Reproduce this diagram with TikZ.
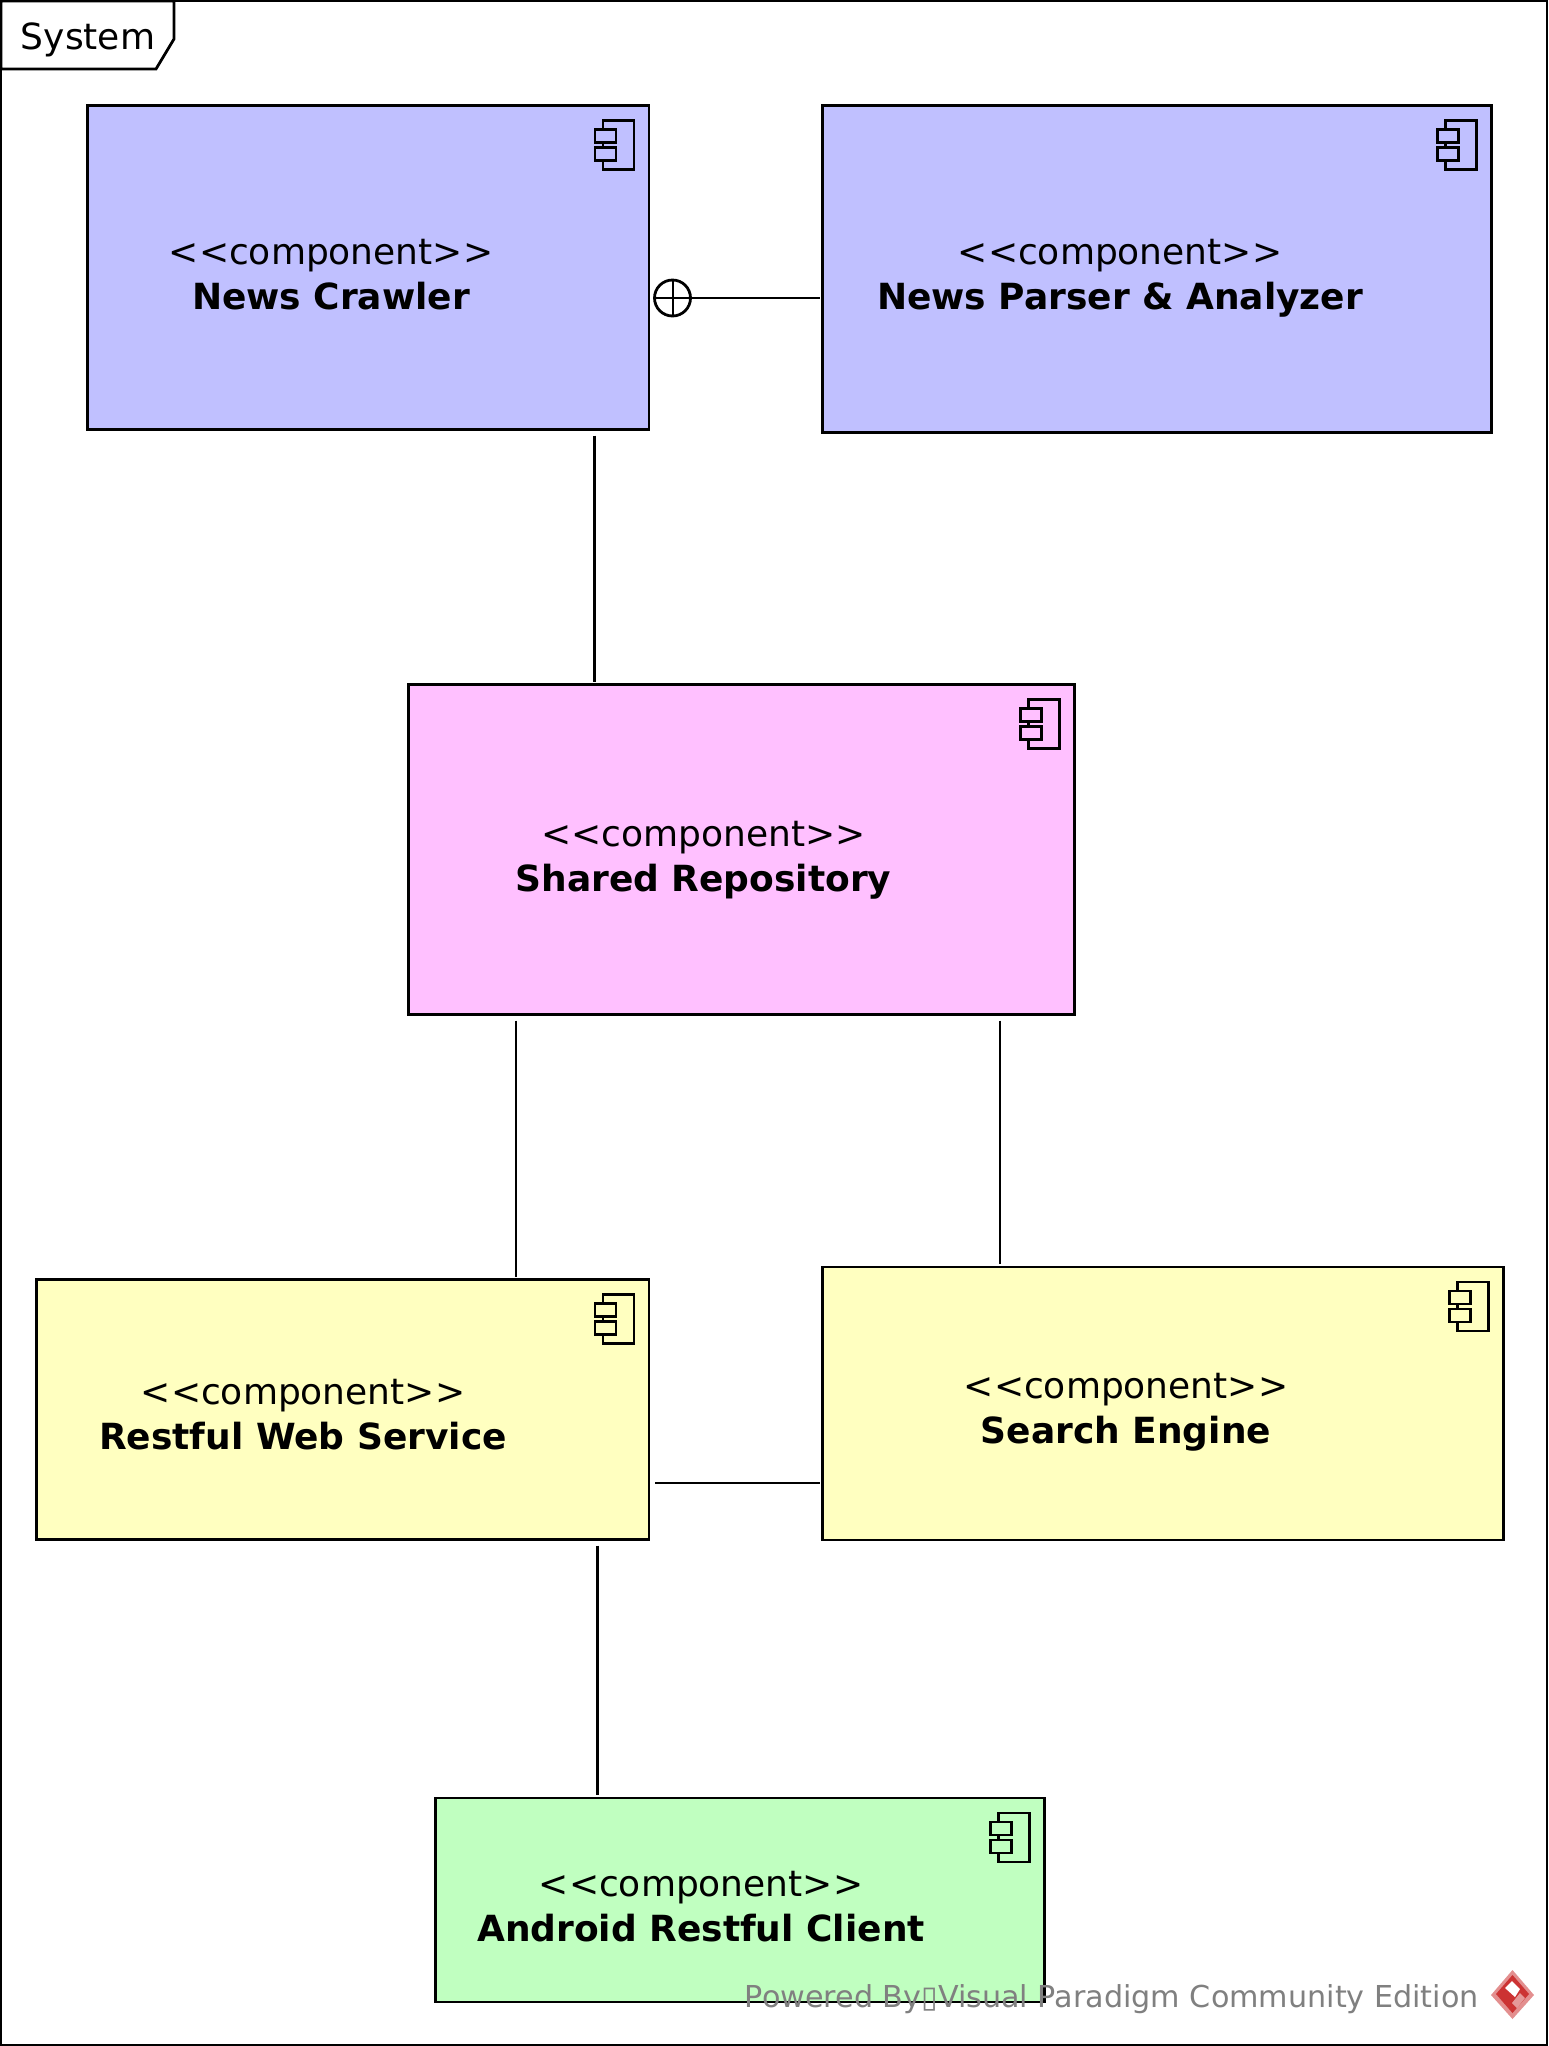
\documentclass[tikz,border=0pt]{standalone}
\usepackage{fontspec}
\setmainfont{DejaVu Sans}
\definecolor{compblue}{HTML}{C0C0FF}
\definecolor{comppink}{HTML}{FFC0FF}
\definecolor{compyellow}{HTML}{FFFFC0}
\definecolor{compgreen}{HTML}{C0FFC0}
\definecolor{vpred}{HTML}{CC3333}
\tikzset{
	comp/.style={draw,line width=2.8pt,outer sep=0pt,inner sep=0pt},
	lbl/.style={align=center,inner sep=0pt,font=\fontsize{36}{44.5}\selectfont},
	link/.style={line width=2.8pt,shorten <=6pt,shorten >=3pt},
}
\newcommand{\stereo}[1]{<{}<component>{}>\\\textbf{#1}\strut}
\begin{document}
\begin{tikzpicture}[x=1pt,y=-1pt,line join=miter]
	\useasboundingbox (0,0) rectangle (1548,2046);
	\draw[line width=2.8pt] (1,1) rectangle (1547,2045);
	\draw[line width=2.8pt,fill=white] (1,1)--(174,1)--(174,39)--(156,69)--(1,69)--cycle;
	\node[lbl,anchor=center] (systemlbl) at (88,40) {System};
	% components
	\node[comp,fill=compblue,minimum width=561.5pt,minimum height=324pt,anchor=north west] (crawler) at (87.5,105.5) {};
	\node[comp,fill=compblue,minimum width=669pt,minimum height=327pt,anchor=north west] (parser) at (822.5,105.5) {};
	\node[comp,fill=comppink,minimum width=666pt,minimum height=330pt,anchor=north west] (shared) at (408.5,684.5) {};
	\node[comp,fill=compyellow,minimum width=612.5pt,minimum height=260pt,anchor=north west] (restful) at (36.5,1279.5) {};
	\node[comp,fill=compyellow,minimum width=681pt,minimum height=273pt,anchor=north west] (search) at (822.5,1267) {};
	\node[comp,fill=compgreen,minimum width=609pt,minimum height=204pt,anchor=north west] (android) at (435.5,1798) {};
	\foreach \n/\c in {crawler/compblue,parser/compblue,shared/comppink,restful/compyellow,search/compyellow,android/compgreen}{
		\draw[line width=2.8pt,shift={(\n.north east)}] (-46,15) rectangle (-15,64);
		\draw[line width=2.8pt,fill=\c,shift={(\n.north east)}] (-54,24) rectangle (-33,37) (-54,42) rectangle (-33,55);
	}
	\node[lbl] (crawlerlbl) at (331,281) {\stereo{News Crawler}};
	\node[lbl] (parserlbl) at (1120,281) {\stereo{News Parser \& Analyzer}};
	\node[lbl] (sharedlbl) at (703.5,863) {\stereo{Shared Repository}};
	\node[lbl] (restfullbl) at (303,1421) {\stereo{Restful Web Service}};
	\node[lbl] (searchlbl) at (1126,1415) {\stereo{Search Engine}};
	\node[lbl] (androidlbl) at (701,1913) {\stereo{Android Restful Client}};
	% connectors
	\node[circle,draw,line width=2.8pt,minimum size=36pt,inner sep=0pt,outer sep=0pt] (joint) at (672.5,298) {};
	\draw[line width=2pt] (joint.north)--(joint.south) (joint.west)--(joint.east);
	\draw[link,shorten <=0pt] (joint.east)--(joint.east -| parser.west);
	\draw[link] (594.5,0 |- crawler.south)--(594.5,0 |- shared.north);
	\draw[link] (516,0 |- shared.south)--(516,0 |- restful.north);
	\draw[link] (1000,0 |- shared.south)--(1000,0 |- search.north);
	\draw[link] (0,1483 -| restful.east)--(0,1483 -| search.west);
	\draw[link] (597.5,0 |- restful.south)--(597.5,0 |- android.north);
	% footer
	\node[lbl,text=black!50,anchor=base east,font=\fontsize{30.2}{36}\selectfont] (powered) at (1479,2007) {Powered By▯Visual Paradigm Community Edition};
	\fill[vpred!55] (1512.5,1970)--(1534,1995)--(1512.5,2019)--(1491,1995)--cycle;
	\fill[vpred] (1512.5,1975)--(1529,1994)--(1512.5,2013)--(1496,1994)--cycle;
	\fill[white] (1512,1981)--(1520,1989)--(1515,1997)--(1505,1988)--cycle;
	\fill[white,opacity=.5] (1525,1998)--(1517,2008)--(1512,2003)--(1520,1993)--cycle;
\end{tikzpicture}
\end{document}
